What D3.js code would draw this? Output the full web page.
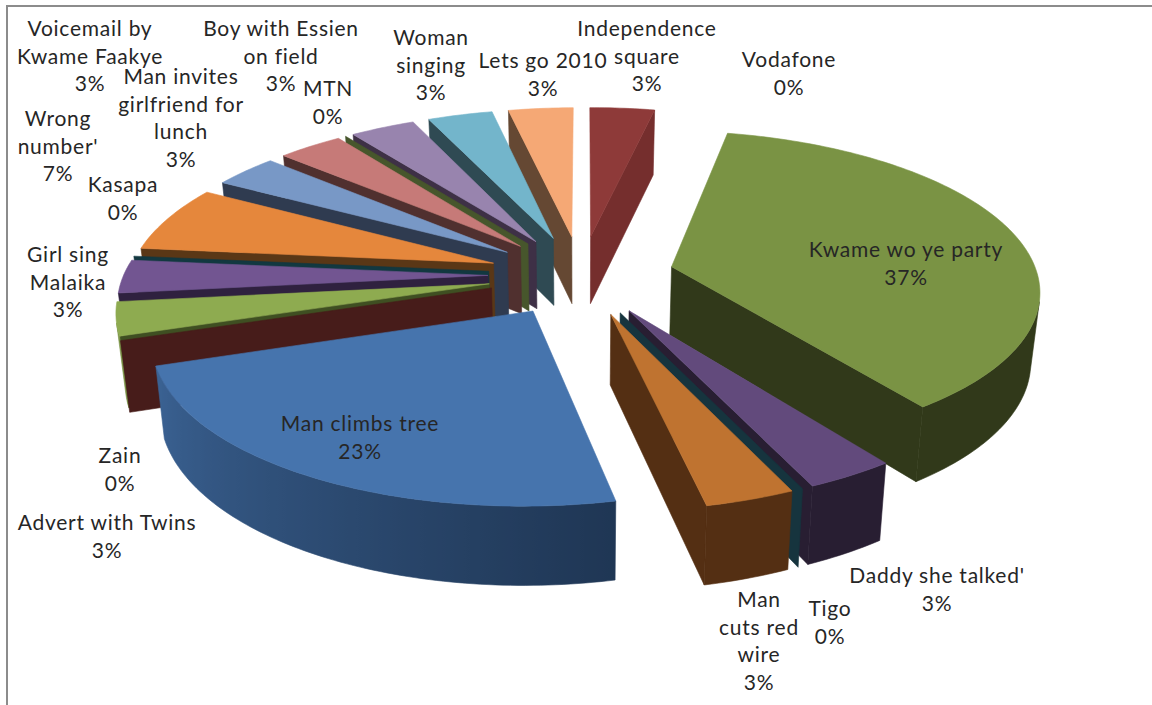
<!DOCTYPE html>
<html>
<head>
<meta charset="utf-8">
<script src="https://cdn.jsdelivr.net/npm/d3@7"></script>
<style>
  body { margin: 0; background: #fff; }
  text { font-family: Lato, "Open Sans", sans-serif; font-size: 21px; letter-spacing: 0.75px; fill: #262626; }
</style>
</head>
<body>
<svg id="chart" width="1152" height="705"></svg>
<script>
// Slices in drawing order round the pie, clockwise from the first slice angle
const categories = [
  'Man climbs tree', 'Zain', 'Advert with Twins', 'Girl sing Malaika', 'Kasapa', "Wrong number'",
  'Voicemail by Kwame Faakye', 'Man invites girlfriend for lunch', 'MTN', 'Boy with Essien on field',
  'Woman singing', 'Lets go 2010', 'Vodafone', 'Independence square', 'Kwame wo ye party',
  "Daddy she talked'", 'Tigo', 'Man cuts red wire'
];
const counts = [7, 0, 1, 1, 0, 2, 1, 1, 0, 1, 1, 1, 0, 1, 11, 1, 0, 1];

// Line breaks of the data labels
const labelLines = [
  ['Man climbs tree'], ['Zain'], ['Advert with Twins'], ['Girl sing', 'Malaika'], ['Kasapa'], ['Wrong', "number'"],
  ['Voicemail by', 'Kwame Faakye'], ['Man invites', 'girlfriend for', 'lunch'], ['MTN'], ['Boy with Essien', 'on field'],
  ['Woman', 'singing'], ['Lets go 2010'], ['Vodafone'], ['Independence', 'square'], ['Kwame wo ye party'],
  ["Daddy she talked'"], ['Tigo'], ['Man', 'cuts red', 'wire']
];
const labelX = [360, 120, 107, 68, 123, 58, 90, 181, 328, 281, 431, 543, 789, 647, 906, 937, 830, 759];
const labelY = [424, 456, 523, 255, 185, 119, 29, 77, 89, 29, 38, 61, 60, 29, 250, 576, 609, 600];

const topColors = [
  '#4674ad', '#a03c3a', '#8eab50', '#725591', '#2f8ea8', '#e5873c', '#7898c6', '#c67a78', '#a6c06c',
  '#9884ae', '#73b5cb', '#f5a875', '#2c4d75', '#8e3a39', '#7a9344', '#624a7c', '#1f6a7e', '#bf7330'
];
const sideColors = [
  '#1f3654', '#471c1a', '#3f4f22', '#2f213f', '#123840', '#5a3716', '#2f3b50', '#50302f', '#47562c',
  '#3e3046', '#2f4a53', '#654833', '#1c2c44', '#752e2d', '#31391a', '#281e32', '#16343e', '#542f13'
];

const rad = d => d * Math.PI / 180;
const firstSliceAngle = rad(168);
const explode = 0.255;          // every slice is pulled out by this share of the radius

// Ground plane of the pie to screen, fitted to the corners of the slices
function project(X, Y) {
  const w = 1 - 0.000670335 * X + 0.13937 * Y;
  return [
    (364.845 * X + 81.3923 * Y + 581.102) / w,
    (-1.14648 * X - 118.569 * Y + 275.167) / w
  ];
}
const centerX = 581.1;
const depth = d3.scaleLinear().domain([110, 240, 500]).range([65, 67, 79]);
const lower = ([x, y]) => [centerX + (x - centerX) * 0.98, y + depth(y)];

// The front wall gets lighter going round to the left, nothing else is shaded
const wallLight = d3.scaleLinear()
  .domain([rad(168), rad(252), rad(264), rad(265)])
  .range([0, 0.72, 0.72, 0])
  .clamp(true);

const total = d3.sum(counts);
const percent = d3.format('.0%');
const pie = d3.pie().sort(null).startAngle(firstSliceAngle).endAngle(firstSliceAngle + 2 * Math.PI);
const slices = pie(counts).map((d, i) => ({
  i,
  mid: (d.startAngle + d.endAngle) / 2,
  start: d.startAngle,
  end: d.endAngle
}));

const svg = d3.select('#chart');
const defs = svg.append('defs');
const line = d3.line();
const polygon = pts => line(pts) + 'Z';

// Chart frame, only the top and left show in the picture
svg.append('path')
  .attr('d', line([[7, 705], [7, 6], [1152, 6]]))
  .attr('fill', 'none')
  .attr('stroke', '#8c8c8c')
  .attr('stroke-width', 2);

const onRim = (s, t) => project(
  explode * Math.sin(s.mid) + Math.sin(t),
  explode * Math.cos(s.mid) + Math.cos(t)
);
const apexOf = s => project(explode * Math.sin(s.mid), explode * Math.cos(s.mid));

// Horizontal gradient for a wall, sampled from its rim points
function wallFill(s, run) {
  const side = sideColors[s.i];
  const lights = run.map(d => wallLight(d.t));
  if (d3.max(lights) === 0) return side;
  const xExtent = d3.extent(run, d => d.p[0]);
  const offset = d3.scaleLinear().domain(xExtent).range([0, 1]);
  const id = 'wall' + s.i;
  const grad = defs.append('linearGradient')
    .attr('id', id)
    .attr('gradientUnits', 'userSpaceOnUse')
    .attr('x1', xExtent[0]).attr('x2', xExtent[1])
    .attr('y1', 0).attr('y2', 0);
  const stops = run.slice().sort((a, b) => a.p[0] - b.p[0]);
  stops.forEach(d => {
    grad.append('stop')
      .attr('offset', offset(d.p[0]))
      .attr('stop-color', d3.interpolateRgb(side, topColors[s.i])(wallLight(d.t)));
  });
  return 'url(#' + id + ')';
}

// Far slices first, so the near ones paint over them
const order = slices.slice().sort((a, b) => Math.cos(b.mid) - Math.cos(a.mid));

order.forEach(s => {
  const g = svg.append('g');
  const apex = apexOf(s);
  const steps = Math.max(1, Math.ceil((s.end - s.start) / rad(1)));
  const angles = d3.range(steps + 1).map(k => s.start + (s.end - s.start) * k / steps);
  const rim = angles.map(t => onRim(s, t));
  const side = sideColors[s.i];

  const face = (pts, fill) => g.append('path')
    .attr('d', polygon(pts))
    .attr('fill', fill)
    .attr('stroke', fill)
    .attr('stroke-width', 0.6);

  // Cut faces, only those turned to the viewer and not edge on
  const cuts = [
    [apex, rim[0], lower(rim[0]), lower(apex)],
    [rim[steps], apex, lower(apex), lower(rim[steps])]
  ];
  cuts.forEach(pts => {
    if (d3.polygonArea(pts) > 400) face(pts, side);
  });

  if (s.end > s.start) {
    // Outer wall, the part of the rim that faces the viewer as one shape
    const run = [];
    d3.range(steps).forEach(k => {
      const pts = [rim[k], rim[k + 1], lower(rim[k + 1]), lower(rim[k])];
      if (d3.polygonArea(pts) > 0) {
        if (!run.length) run.push({ t: angles[k], p: rim[k] });
        run.push({ t: angles[k + 1], p: rim[k + 1] });
      }
    });
    if (run.length) {
      const edge = run.map(d => d.p);
      face([...edge, ...edge.slice().reverse().map(lower)], wallFill(s, run));
    }
    // Top
    face([apex, ...rim], topColors[s.i]);
  }
});

// Data labels
categories.forEach((name, i) => {
  const rows = [...labelLines[i], percent(counts[i] / total)];
  const t = svg.append('text').attr('text-anchor', 'middle');
  rows.forEach((row, r) => {
    t.append('tspan')
      .attr('x', labelX[i])
      .attr('y', labelY[i] + r * 27.4)
      .attr('dy', '0.35em')
      .text(row);
  });
});
</script>
</body>
</html>
